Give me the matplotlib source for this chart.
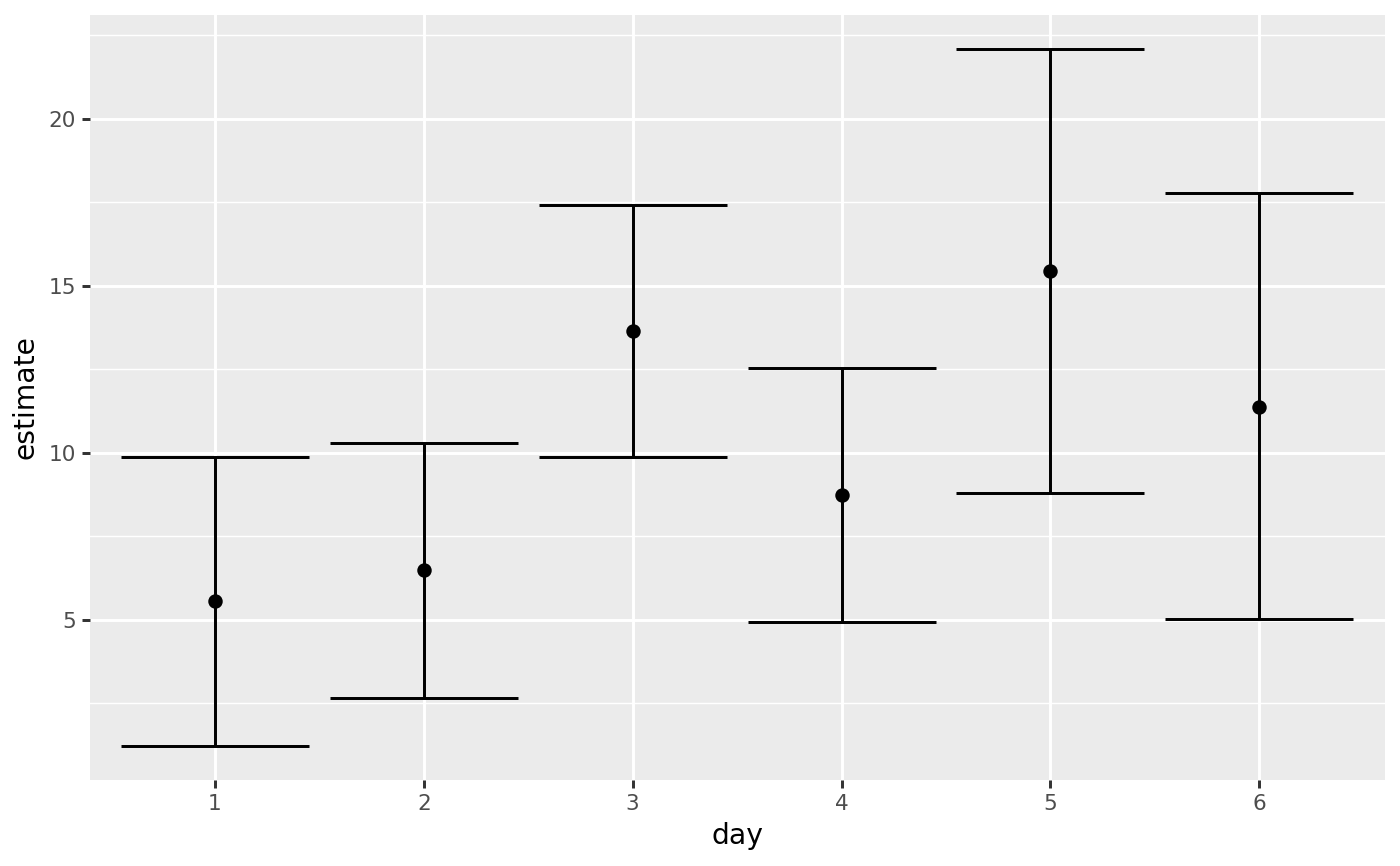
import matplotlib.pyplot as plt
import numpy as np

# data
days = [1, 2, 3, 4, 5, 6]
estimate = [5.55, 6.48, 13.66, 8.74, 15.45, 11.38]
lower = [1.23, 2.66, 9.88, 4.94, 8.80, 5.02]
upper = [9.88, 10.30, 17.43, 12.53, 22.08, 17.77]

fig, ax = plt.subplots(figsize=(7, 4.33), dpi=200)
fig.subplots_adjust(left=0.064, right=0.989, top=0.983, bottom=0.099)

ax.set_facecolor("#EBEBEB")
for s in ax.spines.values():
    s.set_visible(False)

# error bars, width 0.9 like geom_errorbar
x = np.array(days)
ax.vlines(x, lower, upper, color="black", lw=1.07, zorder=3)
ax.hlines(lower, x - 0.45, x + 0.45, color="black", lw=1.07, zorder=3)
ax.hlines(upper, x - 0.45, x + 0.45, color="black", lw=1.07, zorder=3)
ax.plot(x, estimate, "o", color="black", ms=4.2, zorder=4)

ax.set_xlim(0.4, 6.6)
ax.set_ylim(0.19, 23.12)
ax.set_xticks(days)
ax.set_xticklabels([str(d) for d in days])
ax.set_yticks([5, 10, 15, 20])
ax.set_yticks([2.5, 7.5, 12.5, 17.5, 22.5], minor=True)

ax.grid(True, which="major", color="white", lw=1.07)
ax.grid(True, which="minor", axis="y", color="white", lw=0.53)
ax.set_axisbelow(True)

ax.tick_params(which="major", length=3.0, width=1.07, color="#333333",
               labelcolor="#4D4D4D", labelsize=7.8, pad=2)
ax.tick_params(which="minor", length=0)

ax.set_xlabel("day", fontsize=10.2, labelpad=3)
ax.set_ylabel("estimate", fontsize=10.2, labelpad=3)

fig.savefig("out.png", dpi=200)
